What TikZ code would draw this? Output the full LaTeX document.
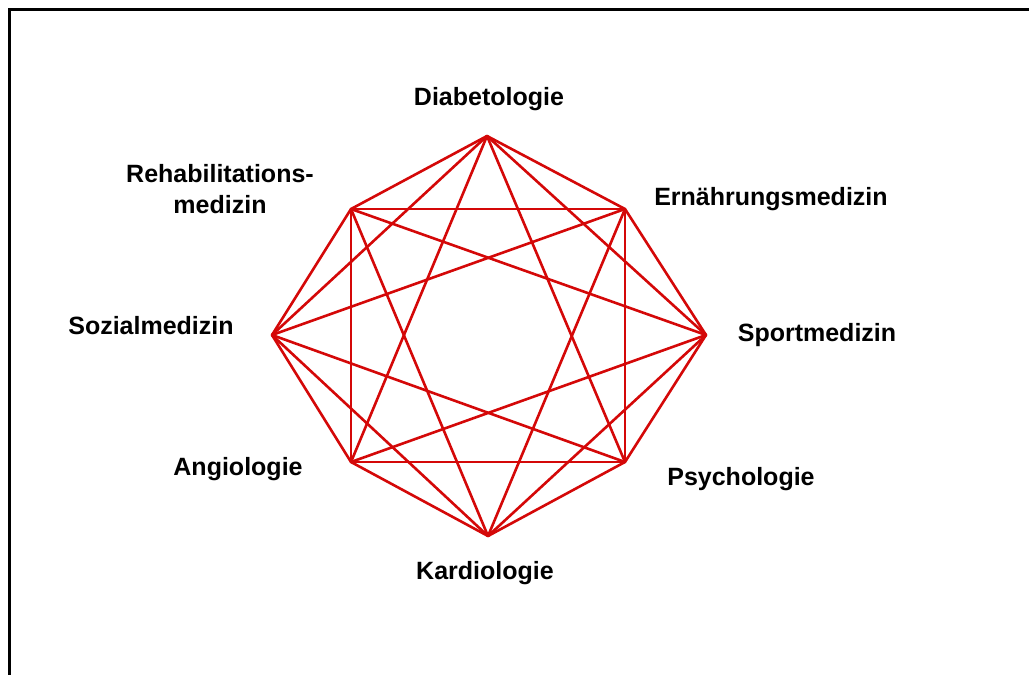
\documentclass[tikz,border=0pt]{standalone}
\usepackage{fontspec}
\setmainfont{Liberation Sans}
\usepackage{tikz}

\definecolor{linkred}{RGB}{212,8,8}

\begin{document}
\begin{tikzpicture}[
  x=1pt, y=-1pt,
  lbl/.style={font=\bfseries\fontsize{25}{31}\selectfont, align=center, inner sep=0pt},
  link/.style={draw=linkred, line width=2.6pt, line join=round, line cap=round},
  frame/.style={draw=black, line width=3pt}
]
\useasboundingbox (0,0) rectangle (1029,675);
\draw[frame] (1029,9) -- (9,9) -- (9,675);

% corners of the octagon
\coordinate (v0) at (487,136);
\coordinate (v1) at (625,209);
\coordinate (v2) at (706,335);
\coordinate (v3) at (625,462);
\coordinate (v4) at (488,536);
\coordinate (v5) at (351,462);
\coordinate (v6) at (272,335);
\coordinate (v7) at (351,209);

% labels
\node[lbl] (diab) at (489,99) {Diabetologie};
\node[lbl] (ern) at (771,199) {Ernährungsmedizin};
\node[lbl] (sport) at (817,335) {Sportmedizin};
\node[lbl] (psy) at (741,479) {Psychologie};
\node[lbl] (kard) at (485,573) {Kardiologie};
\node[lbl] (angio) at (238,469) {Angiologie};
\node[lbl] (sozial) at (151,326) {Sozialmedizin};
\node[lbl] (reha) at (220,189) {Rehabilitations-\\medizin};

% every pair except the four diameters
\foreach \i in {0,...,7}
  \foreach \j in {1,2,3} {
    \pgfmathtruncatemacro{\k}{mod(\i+\j,8)}
    \draw[link] (v\i) -- (v\k);
  }
\end{tikzpicture}
\end{document}
